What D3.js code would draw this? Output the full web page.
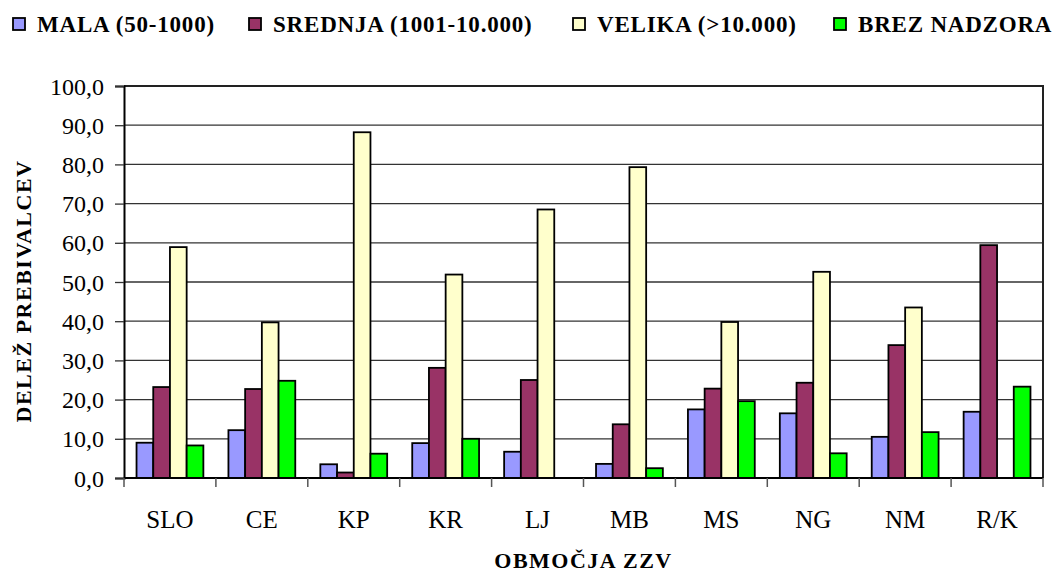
<!DOCTYPE html>
<html>
<head>
<meta charset="utf-8">
<script src="https://cdn.jsdelivr.net/npm/d3@7"></script>
<style>
  html, body { margin: 0; padding: 0; background: #fff; }
  svg { display: block; }
  text { fill: #000; }
</style>
</head>
<body>
<svg id="chart" width="1053" height="572"></svg>
<script>
const categories = ["SLO", "CE", "KP", "KR", "LJ", "MB", "MS", "NG", "NM", "R/K"];
const seriesNames = ["MALA (50-1000)", "SREDNJA (1001-10.000)", "VELIKA (>10.000)", "BREZ NADZORA"];
const mala    = [9.0, 12.2, 3.5, 8.9, 6.7, 3.6, 17.5, 16.5, 10.5, 16.9];
const srednja = [23.2, 22.7, 1.4, 28.1, 25.0, 13.7, 22.8, 24.3, 33.9, 59.4];
const velika  = [58.9, 39.7, 88.2, 51.9, 68.5, 79.3, 39.8, 52.6, 43.5, null];
const brez    = [8.3, 24.8, 6.2, 10.0, null, 2.5, 19.6, 6.3, 11.7, 23.3];
const yTicks = [0, 10, 20, 30, 40, 50, 60, 70, 80, 90, 100];
const colors = ["#9999FF", "#993366", "#FFFFCC", "#00FF00"];
const yTitle = "DELEŽ PREBIVALCEV";
const xTitle = "OBMOČJA ZZV";

(function () {
const FONT = "'Liberation Serif', 'Times New Roman', Times, serif";
const seriesValues = [mala, srednja, velika, brez];
const svg = d3.select("#chart").attr("font-family", FONT);

const pLeft = 124, pRight = 1043, pTop = 86, pBottom = 478;

const x = d3.scaleBand().domain(categories).range([pLeft, pRight]).padding(0);
const xs = d3.scaleBand().domain(d3.range(seriesNames.length))
  .range([0, x.bandwidth()]).paddingInner(0).paddingOuter(0.75);
const y = d3.scaleLinear().domain([0, 100]).range([pBottom, pTop]);

// gridlines
svg.append("g").selectAll("line").data(yTicks.filter(d => d > 0 && d < 100)).join("line")
  .attr("x1", pLeft).attr("x2", pRight)
  .attr("y1", d => y(d)).attr("y2", d => y(d))
  .attr("stroke", "#333").attr("stroke-width", 1.3);

// top and right border
svg.append("path")
  .attr("d", `M${pLeft},${y(100)}H${pRight}V${pBottom}`)
  .attr("fill", "none").attr("stroke", "#222").attr("stroke-width", 2);

// bars
const data = [];
categories.forEach((c, i) => {
  seriesValues.forEach((vals, s) => {
    if (vals[i] != null) data.push({ c, s, v: vals[i] });
  });
});
svg.append("g").selectAll("rect").data(data).join("rect")
  .attr("x", d => x(d.c) + xs(d.s))
  .attr("y", d => y(d.v))
  .attr("width", xs.bandwidth())
  .attr("height", d => pBottom - y(d.v))
  .attr("fill", d => colors[d.s])
  .attr("stroke", "#000").attr("stroke-width", 1.8);

// y axis
const yAxis = d3.axisLeft(y).tickValues(yTicks).tickSize(9).tickPadding(11)
  .tickFormat(d => d3.format(".1f")(d).replace(".", ","));
const ya = svg.append("g").attr("transform", `translate(${pLeft},0)`).call(yAxis)
  .attr("font-family", FONT).attr("font-size", 24);
ya.select(".domain").attr("stroke", "#000").attr("stroke-width", 2);
ya.selectAll(".tick line").attr("stroke", "#333").attr("stroke-width", 1.3);
ya.selectAll(".tick text").attr("dy", "0.34em");

// x axis
const xa = svg.append("g").attr("transform", `translate(0,${pBottom})`);
xa.append("line").attr("x1", pLeft).attr("x2", pRight).attr("y1", 0).attr("y2", 0)
  .attr("stroke", "#000").attr("stroke-width", 2);
const boundaries = categories.map(c => x(c)).concat([x(categories[categories.length - 1]) + x.bandwidth()]);
xa.selectAll("line.tk").data(boundaries).join("line").attr("class", "tk")
  .attr("x1", d => d).attr("x2", d => d).attr("y1", 0).attr("y2", 9)
  .attr("stroke", "#555").attr("stroke-width", 1.5);
xa.selectAll("text").data(categories).join("text")
  .attr("x", d => x(d) + x.bandwidth() / 2).attr("y", 50)
  .attr("text-anchor", "middle").attr("font-size", 25)
  .text(d => d);

// axis titles
svg.append("text").attr("x", (pLeft + pRight) / 2).attr("y", 568)
  .attr("text-anchor", "middle").attr("font-size", 22).attr("font-weight", "bold")
  .attr("letter-spacing", 1.5)
  .text(xTitle);
svg.append("text").attr("transform", `translate(31,291) rotate(-90)`)
  .attr("text-anchor", "middle").attr("font-size", 22).attr("font-weight", "bold")
  .attr("letter-spacing", 1.5)
  .text(yTitle);

// legend
const legX = [13, 249, 573, 834];
const lg = svg.append("g").selectAll("g").data(seriesNames).join("g")
  .attr("transform", (d, i) => `translate(${legX[i]},0)`);
lg.append("rect").attr("x", 0).attr("y", 18).attr("width", 12).attr("height", 12)
  .attr("fill", (d, i) => colors[i]).attr("stroke", "#000").attr("stroke-width", 1.8);
lg.append("text").attr("x", 24).attr("y", 31.5)
  .attr("font-size", 23).attr("font-weight", "bold").attr("letter-spacing", 0.8)
  .text(d => d);
})();
</script>
</body>
</html>
